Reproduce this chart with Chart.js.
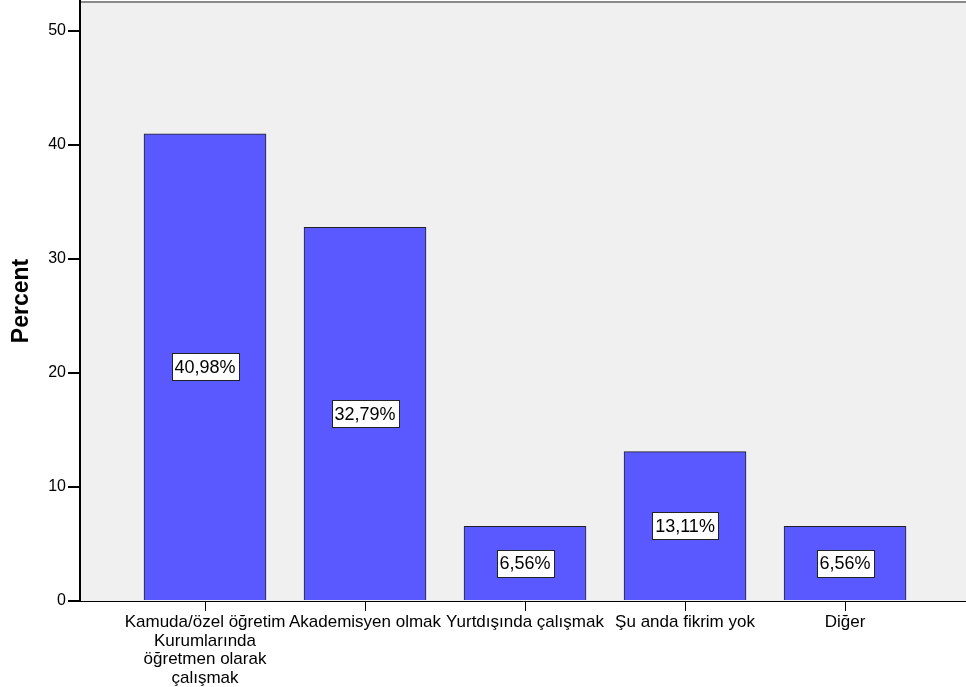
<!DOCTYPE html>
<html>
<head>
<meta charset="utf-8">
<script src="https://cdn.jsdelivr.net/npm/chart.js@4.4.1/dist/chart.umd.min.js"></script>
<style>
html,body{margin:0;padding:0;background:#fff;}
#wrap{width:966px;height:687px;position:relative;}
</style>
</head>
<body>
<div id="wrap"><canvas id="c" width="966" height="687"></canvas></div>
<script>
const categories = [
  ["Kamuda/özel öğretim", "Kurumlarında", "öğretmen olarak", "çalışmak"],
  ["Akademisyen olmak"],
  ["Yurtdışında çalışmak"],
  ["Şu anda fikrim yok"],
  ["Diğer"]
];
const percentValues = [40.98, 32.79, 6.56, 13.11, 6.56];
const yTicks = [0, 10, 20, 30, 40, 50];

const FONT = '"Liberation Sans", Arial, sans-serif';

const bgPlugin = {
  id: 'bg',
  beforeDraw(chart) {
    const {ctx, chartArea: a} = chart;
    ctx.save();
    ctx.fillStyle = '#F0F0F0';
    ctx.fillRect(a.left, a.top, a.right - a.left, a.bottom - a.top);
    ctx.strokeStyle = '#8a8a8a';
    ctx.lineWidth = 2;
    ctx.beginPath();
    ctx.moveTo(a.left, a.top + 1);
    ctx.lineTo(a.right, a.top + 1);
    ctx.stroke();
    ctx.restore();
  }
};

const labelPlugin = {
  id: 'boxLabels',
  afterDatasetsDraw(chart) {
    const {ctx} = chart;
    const meta = chart.getDatasetMeta(0);
    ctx.save();
    ctx.font = '18px ' + FONT;
    ctx.textAlign = 'center';
    ctx.textBaseline = 'middle';
    meta.data.forEach((bar, i) => {
      const txt = percentValues[i].toFixed(2).replace('.', ',') + '%';
      const w = Math.round(ctx.measureText(txt).width + 6);
      const h = 27;
      const cx = bar.x;
      const cy = (bar.y + bar.base) / 2;
      const x0 = Math.round(cx - w / 2) + 0.5, y0 = Math.round(cy - h / 2) + 0.5;
      ctx.fillStyle = '#ffffff';
      ctx.fillRect(x0, y0, w, h);
      ctx.strokeStyle = '#222';
      ctx.lineWidth = 1;
      ctx.strokeRect(x0, y0, w, h);
      ctx.fillStyle = '#000';
      ctx.fillText(txt, cx, cy + 1);
    });
    ctx.restore();
  }
};

new Chart(document.getElementById('c'), {
  type: 'bar',
  data: {
    datasets: [{
      data: percentValues.map((v, i) => ({x: i, y: v})),
      backgroundColor: '#5959FF',
      borderColor: '#222',
      borderWidth: 1,
      barThickness: 122
    }]
  },
  options: {
    responsive: false,
    animation: false,
    devicePixelRatio: 1,
    layout: {padding: {top: 1, right: 0, left: 0, bottom: 0}},
    plugins: {legend: {display: false}, tooltip: {enabled: false}},
    scales: {
      x: {
        type: 'linear',
        offset: false,
        min: -0.78125,
        max: 4.756,
        afterBuildTicks(scale) { scale.ticks = categories.map((_, i) => ({value: i})); },
        afterFit(scale) { scale.height = 86; scale.paddingLeft = 0; scale.paddingRight = 0; },
        ticks: {
          autoSkip: false,
          maxRotation: 0,
          minRotation: 0,
          padding: 2,
          color: '#000',
          font: {family: FONT, size: 17, lineHeight: 1.1},
          callback: (v) => categories[v]
        },
        grid: {offset: false, drawOnChartArea: false, tickLength: 10, color: '#000', lineWidth: 1},
        border: {display: true, color: '#000', width: 1}
      },
      y: {
        min: 0,
        max: 52.64,
        afterBuildTicks(scale) { scale.ticks = yTicks.map(v => ({value: v})); },
        afterFit(scale) { scale.width = 80; scale.paddingTop = 0; scale.paddingBottom = 0; },
        ticks: {
          padding: 2,
          color: '#000',
          font: {family: FONT, size: 16}
        },
        grid: {drawOnChartArea: false, tickLength: 12, color: '#000', lineWidth: 2},
        border: {display: true, color: '#000', width: 2},
        title: {
          display: true,
          text: 'Percent',
          color: '#000',
          font: {family: FONT, size: 23, weight: 'bold'},
          padding: {top: 8, bottom: 0}
        }
      }
    }
  },
  plugins: [bgPlugin, labelPlugin]
});
</script>
</body>
</html>
